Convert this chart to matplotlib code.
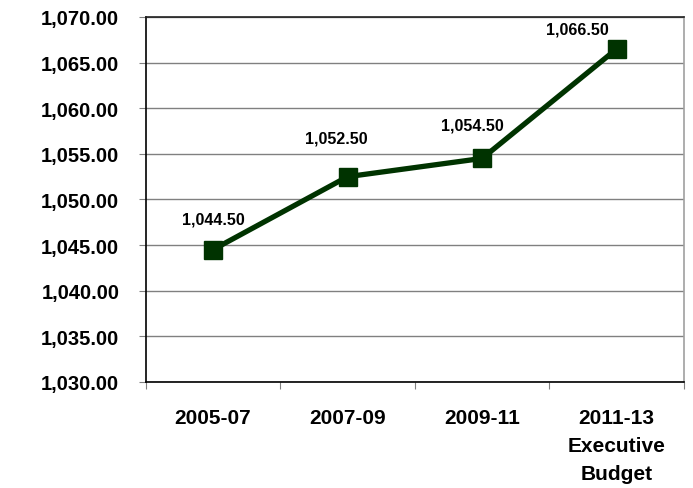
import numpy as np
import matplotlib.pyplot as plt
from matplotlib.ticker import FuncFormatter, FixedLocator

plt.rcParams['font.family'] = ['Liberation Sans', 'DejaVu Sans']
plt.rcParams['font.weight'] = 'bold'

# data
periods = ["2005-07", "2007-09", "2009-11", "2011-13\nExecutive\nBudget"]
values = [1044.50, 1052.50, 1054.50, 1066.50]

# label offsets in pixels (dx, dy), hand placed like the original
label_dx = [0, -11, -10, -39]
label_dy = [31, 39, 33, 20]

green = "#003300"

fig = plt.figure(figsize=(6.93, 4.89), dpi=100)
ax = fig.add_axes([0.2102, 0.2168, 0.987 - 0.2102, 0.9632 - 0.2168])

x = np.arange(len(values))
ax.plot(x, values, color=green, lw=3.8, marker="s", ms=13.5,
        mec=green, mfc=green, zorder=3, solid_joinstyle="miter")

for i, v in enumerate(values):
    ax.annotate(f"{v:,.2f}", (x[i], v),
                xytext=(label_dx[i] * 0.72, label_dy[i] * 0.72),
                textcoords="offset points", ha="center", va="center",
                fontsize=11.5, fontweight="bold")

ax.set_xlim(-0.5, len(values) - 0.5)
ax.set_ylim(1030, 1070)
ax.set_yticks(np.arange(1030, 1071, 5))
ax.yaxis.set_major_formatter(FuncFormatter(lambda v, p: f"{v:,.2f}"))
ax.grid(axis="y", color="#808080", lw=1)
ax.set_axisbelow(True)

# category boundaries get ticks, centres get the labels
ax.xaxis.set_major_locator(FixedLocator(np.arange(-0.5, len(values), 1)))
ax.xaxis.set_major_formatter(FuncFormatter(lambda v, p: ""))
ax.xaxis.set_minor_locator(FixedLocator(x))
ax.set_xticklabels(periods, minor=True)
ax.tick_params(axis="x", which="major", length=5, color="#808080")
ax.tick_params(axis="x", which="minor", length=0, pad=19, labelsize=15)
ax.tick_params(axis="y", length=5, color="#808080", pad=14, labelsize=14.5)
for lab in ax.get_xticklabels(minor=True):
    lab.set_fontweight("bold")
    lab.set_linespacing(1.6)
for lab in ax.get_yticklabels():
    lab.set_fontweight("bold")

ax.spines["left"].set_color("black")
ax.spines["bottom"].set_color("black")
ax.spines["top"].set_color("#202020")
ax.spines["right"].set_color("#a0a0a0")
for s in ax.spines.values():
    s.set_linewidth(1.2)

fig.savefig("out.png", dpi=100)
